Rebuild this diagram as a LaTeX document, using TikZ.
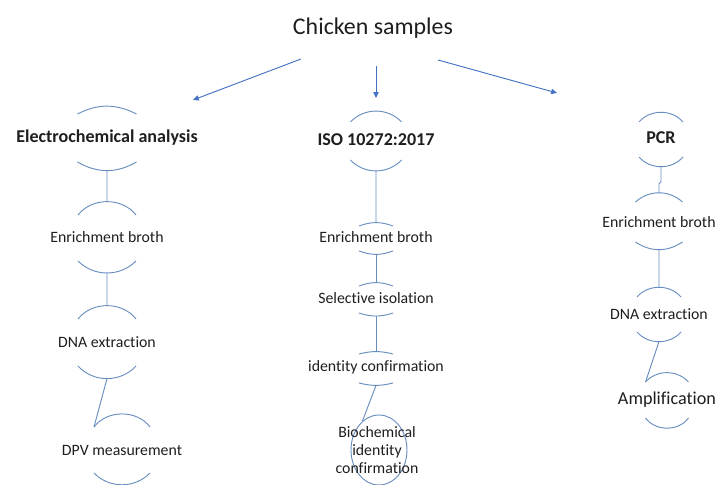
\documentclass[tikz,border=0pt]{standalone}
\usepackage{fontspec}
\setmainfont{Carlito}[Ligatures=NoCommon]
\usetikzlibrary{arrows.meta,shapes.geometric}
\definecolor{capblue}{RGB}{104,142,192}
\definecolor{flowblue}{RGB}{68,114,196}
\definecolor{ink}{RGB}{30,30,30}
% arcs above and below a step: name, half width, top dy, top bend, bottom dy, bottom bend
\newcommand\stepcaps[6]{%
  \draw[capline] ([shift={(-#2,#3)}]#1.center) coordinate (#1-tl)
     to[bend left=#4] node[coordinate,pos=.5] (#1-t) {} ([shift={(#2,#3)}]#1.center);
  \draw[capline] ([shift={(-#2,-#5)}]#1.center)
     to[bend right=#6] node[coordinate,pos=.5] (#1-b) {} ([shift={(#2,-#5)}]#1.center);
}
\begin{document}
\begin{tikzpicture}[x=0.03cm,y=0.03cm,
    capline/.style={capblue,line width=.8pt},
    link/.style={capblue,line width=.8pt},
    flow/.style={flowblue,line width=.8pt,-{Triangle[length=5pt,width=4.5pt]}},
    steptext/.style={text=ink,inner sep=0pt,font=\fontsize{13.5}{15.4}\selectfont},
    headtext/.style={text=ink,inner sep=0pt,font=\fontsize{15.4}{18}\selectfont\bfseries}]
  \useasboundingbox (0,0) rectangle (716,485);
  % Title and arrows
  \node[text=ink,font=\fontsize{20.4}{24}\selectfont] (title) at (373,457) {Chicken samples};
  \coordinate (toEchem) at (193,385);
  \coordinate (toIso)   at (376,387);
  \coordinate (toPcr)   at (557,392);
  \draw[flow] ([shift={(-72,-31)}]title.center) -- (toEchem);
  \draw[flow] ([shift={(3,-38)}]title.center)   -- (toIso);
  \draw[flow] ([shift={(65,-32)}]title.center)  -- (toPcr);

  % Electrochemical branch
  \node[headtext] (echem)  at (107,347) {Electrochemical analysis};
  \node[steptext] (ebroth) at (107,248) {Enrichment broth};
  \node[steptext] (edna)   at (107,143) {DNA extraction};
  \node[steptext] (dpv)    at (122,35)  {DPV measurement};
  \stepcaps{echem}{29.5}{24}{27}{24}{30}
  \stepcaps{ebroth}{29}{22}{52}{24}{45}
  \stepcaps{edna}{29}{23}{52}{24}{48}
  \stepcaps{dpv}{28}{23}{53}{23}{46}
  \draw[link] (echem-b) -- (ebroth-t);
  \draw[link] (ebroth-b) -- (edna-t);
  \draw[link] (edna-b) -- (dpv-tl);

  % ISO branch
  \node[headtext] (iso)    at (376,345) {ISO 10272:2017};
  \node[steptext] (ibroth) at (376,248) {Enrichment broth};
  \node[steptext] (isel)   at (376,187) {Selective isolation};
  \node[steptext] (iid)    at (376,118) {identity confirmation};
  \node[draw=capblue,line width=.8pt,ellipse,inner sep=0pt,
        minimum width=1.68cm,minimum height=2.1cm] (ring) at (379,35) {};
  \node[steptext,align=center] (biochem) at (377,35) {Biochemical\\identity\\confirmation};
  \stepcaps{iso}{25.5}{18}{47}{20}{47}
  \stepcaps{ibroth}{17}{11}{20}{14}{20}
  \stepcaps{isel}{17}{12}{20}{15}{18}
  \stepcaps{iid}{17}{13}{14}{16}{14}
  \draw[link] (iso-b) -- (ibroth-t);
  \draw[link] (ibroth-b) -- (isel-t);
  \draw[link] (isel-b) -- (iid-t);
  \draw[link] (iid-b) -- (ring.120);

  % PCR branch
  \node[headtext] (pcr)    at (661,347) {PCR};
  \node[steptext] (pbroth) at (659,263) {Enrichment broth};
  \node[steptext] (pdna)   at (659,171) {DNA extraction};
  \node[steptext,font=\fontsize{15.5}{18}\selectfont] (ampl) at (667,85) {Amplification};
  \stepcaps{pcr}{22}{16}{49}{19}{49}
  \stepcaps{pbroth}{23.5}{20}{42}{20}{34}
  \stepcaps{pdna}{22}{17}{49}{18}{49}
  \stepcaps{ampl}{21.5}{18}{48}{18}{54}
  \draw[link] (pcr-b) -- ++(0,-15) -- ++(-2,-2) -- (pbroth-t);
  \draw[link] (pbroth-b) -- (pdna-t);
  \draw[link] (pdna-b) -- (ampl-tl);
\end{tikzpicture}
\end{document}
